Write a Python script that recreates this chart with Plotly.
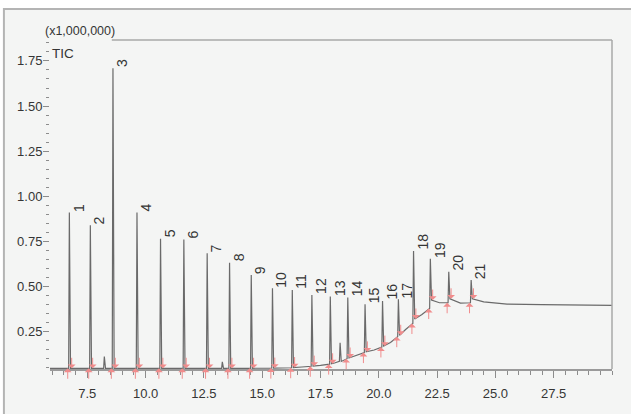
import plotly.graph_objects as go

# Total ion chromatogram, intensities in units of 1,000,000 counts
peak_labels = [str(i) for i in range(1, 22)]
peak_times = [6.73, 7.63, 8.60, 9.63, 10.64, 11.64, 12.64, 13.60, 14.53, 15.44,
              16.29, 17.13, 17.92, 18.67, 19.41, 20.16, 20.84, 21.49, 22.21, 23.00, 23.96]
peak_heights = [0.910, 0.840, 1.710, 0.910, 0.765, 0.760, 0.684, 0.632, 0.564, 0.490,
                0.481, 0.453, 0.444, 0.439, 0.402, 0.420, 0.430, 0.697, 0.654, 0.582, 0.536]
peak_start_levels = [0.047, 0.047, 0.047, 0.047, 0.047, 0.047, 0.047, 0.047, 0.047, 0.048,
                     0.050, 0.058, 0.070, 0.100, 0.134, 0.165, 0.222, 0.295, 0.378, 0.410, 0.410]
peak_end_levels = [0.047, 0.047, 0.047, 0.047, 0.047, 0.047, 0.047, 0.047, 0.047, 0.048,
                   0.051, 0.059, 0.072, 0.104, 0.138, 0.170, 0.230, 0.320, 0.425, 0.432, 0.432]

# Small unlabelled peaks
minor_times = [8.23, 13.29, 18.34]
minor_heights = [0.112, 0.083, 0.188]
minor_levels = [0.047, 0.047, 0.085]

# Baseline drift between peaks
baseline_times = [5.90, 15.90, 16.70, 17.50, 18.10, 19.00, 19.80, 20.50, 21.15, 21.85,
                  22.60, 23.50, 24.50, 25.50, 27.00, 28.50, 30.00]
baseline_levels = [0.047, 0.048, 0.054, 0.063, 0.076, 0.118, 0.148, 0.190, 0.262, 0.345,
                   0.410, 0.408, 0.415, 0.403, 0.400, 0.396, 0.395]

x_ticks = [7.5, 10.0, 12.5, 15.0, 17.5, 20.0, 22.5, 25.0, 27.5]
y_ticks = [0.25, 0.50, 0.75, 1.00, 1.25, 1.50, 1.75]

X_RANGE = [5.9, 30.0]
Y_RANGE = [0.043, 1.866]
RISE = 0.03   # minutes from peak start to apex
FALL = 0.05   # minutes from apex to peak end

TEXT = "#353535"
AXIS = "#8c8c8c"
TRACE = "#6a6a6a"
MARK = "#f08c8c"
BG = "#f4f5f4"
SANS = "Liberation Sans, Arial, sans-serif"

# Assemble the signal: baseline knots plus a start/apex/end vertex for each peak
points = list(zip(baseline_times, baseline_levels))
for t, h, s, e in zip(peak_times, peak_heights, peak_start_levels, peak_end_levels):
    points += [(t - RISE, s), (t, h), (t + FALL, e)]
for t, h, b in zip(minor_times, minor_heights, minor_levels):
    points += [(t - RISE, b), (t, h), (t + FALL, b)]
points.sort(key=lambda p: p[0])

fig = go.Figure()
fig.add_trace(go.Scatter(
    x=[p[0] for p in points], y=[p[1] for p in points],
    mode="lines", line=dict(color=TRACE, width=1.2),
    hoverinfo="skip", showlegend=False,
))

annotations = []
# Peak numbers, rotated, sitting on each apex
for lab, t, h in zip(peak_labels, peak_times, peak_heights):
    annotations.append(dict(
        x=t, y=h, xref="x", yref="y", text=lab, showarrow=False,
        textangle=-90, xanchor="center", yanchor="bottom", xshift=9, yshift=0,
        borderpad=0, font=dict(family=SANS, size=14, color=TEXT),
    ))
# Integration start (up) and end (down) markers
for t, s, e in zip(peak_times, peak_start_levels, peak_end_levels):
    annotations.append(dict(
        x=t - 0.07, y=s, xref="x", yref="y", text="", showarrow=True,
        ax=0, ay=12, arrowhead=1, arrowsize=1.3, arrowwidth=1, arrowcolor=MARK,
    ))
    annotations.append(dict(
        x=t + 0.10, y=e, xref="x", yref="y", text="", showarrow=True,
        ax=0, ay=-12, arrowhead=1, arrowsize=1.3, arrowwidth=1, arrowcolor=MARK,
    ))
annotations.append(dict(
    x=-0.013, y=1.0, xref="paper", yref="paper", text="(x1,000,000)",
    showarrow=False, xanchor="left", yanchor="bottom", yshift=0,
    font=dict(family=SANS, size=12.5, color=TEXT),
))
annotations.append(dict(
    x=0.0, y=1.0, xref="paper", yref="paper", text="TIC",
    showarrow=False, xanchor="left", yanchor="top", yshift=-4,
    font=dict(family=SANS, size=13.5, color=TEXT),
))

shapes = [
    # outer panel
    dict(type="rect", xref="paper", yref="paper", x0=-0.082, x1=1.05, y0=-0.15, y1=1.094,
         fillcolor=BG, line=dict(color="#b4b4b4", width=2), layer="below"),
    # top and right frame of the plotting area
    dict(type="line", xref="paper", yref="paper", x0=0.11, x1=1.0, y0=1.0, y1=1.0,
         line=dict(color="#a8a8a8", width=1.5)),
    dict(type="line", xref="paper", yref="paper", x0=1.0, x1=1.0, y0=0.0, y1=1.0,
         line=dict(color="#a8a8a8", width=1.5)),
]

fig.update_layout(
    width=631, height=414, autosize=False,
    margin=dict(l=50, r=19, t=40, b=45),
    paper_bgcolor="white", plot_bgcolor=BG,
    showlegend=False,
    annotations=annotations, shapes=shapes,
    xaxis=dict(
        range=X_RANGE, tickmode="array", tickvals=x_ticks,
        ticktext=[f"{v:.1f}" for v in x_ticks],
        ticks="outside", ticklen=7, tickwidth=1, tickcolor=AXIS,
        showline=True, linecolor="#9a9a9a", linewidth=1.5,
        showgrid=False, zeroline=False, ticklabelstandoff=5,
        tickfont=dict(family=SANS, size=13, color=TEXT),
        minor=dict(dtick=0.5, tick0=0, ticks="outside", ticklen=4, tickcolor=AXIS, showgrid=False),
    ),
    yaxis=dict(
        range=Y_RANGE, tickmode="array", tickvals=y_ticks,
        ticktext=[f"{v:.2f}" for v in y_ticks],
        ticks="outside", ticklen=6, tickwidth=1, tickcolor=AXIS,
        showline=False, showgrid=False, zeroline=False, ticklabelstandoff=-2,
        tickfont=dict(family=SANS, size=13, color=TEXT),
        minor=dict(dtick=0.05, tick0=0, ticks="outside", ticklen=3, tickcolor=AXIS, showgrid=False),
    ),
)

fig.write_html("out.html")
